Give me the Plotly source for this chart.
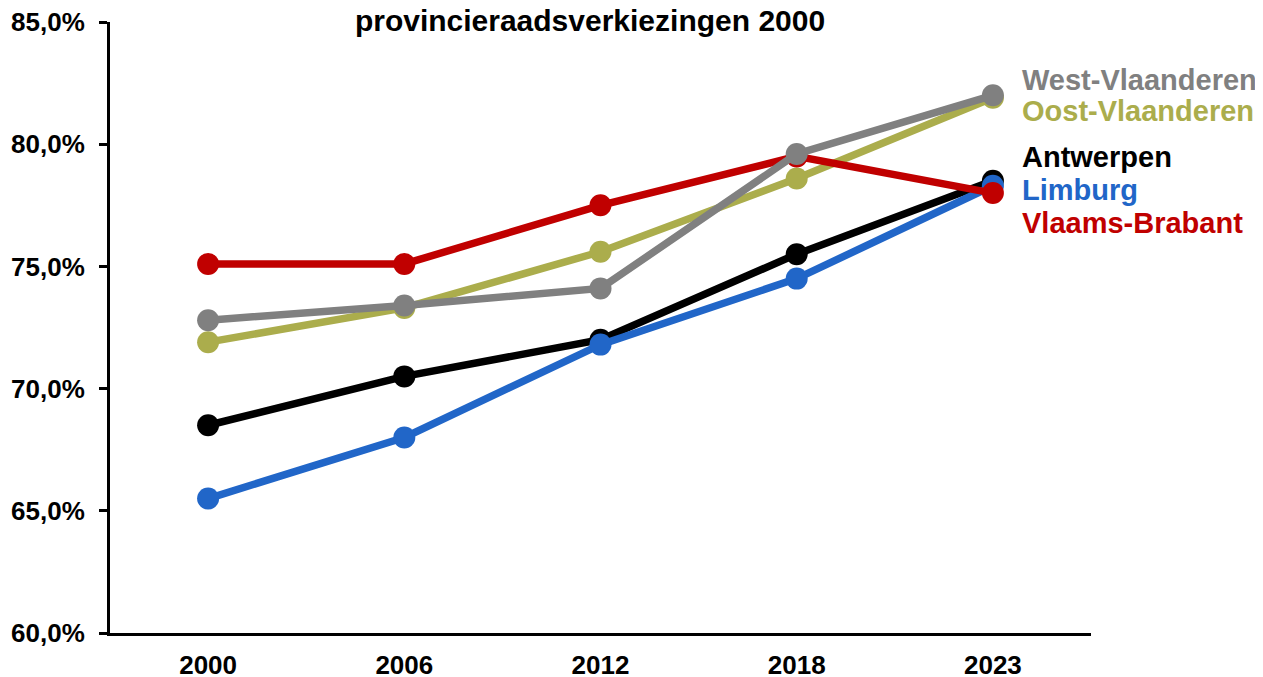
import plotly.graph_objects as go

years = ["2000", "2006", "2012", "2018", "2023"]
antwerpen = [68.5, 70.5, 72.0, 75.5, 78.5]
limburg = [65.5, 68.0, 71.8, 74.5, 78.3]
oost_vlaanderen = [71.9, 73.3, 75.6, 78.6, 81.9]
vlaams_brabant = [75.1, 75.1, 77.5, 79.5, 78.0]
west_vlaanderen = [72.8, 73.4, 74.1, 79.6, 82.0]
y_ticks = [0.60, 0.65, 0.70, 0.75, 0.80, 0.85]

series = [
    ("Antwerpen", antwerpen, "#000000"),
    ("Limburg", limburg, "#2166C8"),
    ("Oost-Vlaanderen", oost_vlaanderen, "#ABAD4C"),
    ("Vlaams-Brabant", vlaams_brabant, "#C00000"),
    ("West-Vlaanderen", west_vlaanderen, "#808080"),
]

# label positions in paper fraction (labels are stacked on the right)
label_pos = {
    "West-Vlaanderen": 0.9051,
    "Oost-Vlaanderen": 0.8543,
    "Antwerpen": 0.7790,
    "Limburg": 0.7250,
    "Vlaams-Brabant": 0.6710,
}

FONT = "Liberation Sans, Arial, sans-serif"
W, H = 1255, 669

fig = go.Figure()
for name, vals, color in series:
    fig.add_trace(go.Scatter(
        x=years, y=[v / 100 for v in vals], mode="lines+markers", name=name,
        line=dict(color=color, width=7.5),
        marker=dict(color=color, size=22),
        showlegend=False,
    ))

annotations = []
for name, vals, color in series:
    annotations.append(dict(
        x=0.9276, y=label_pos[name], xref="paper", yref="paper",
        text="<b>" + name + "</b>", showarrow=False,
        xanchor="left", yanchor="middle",
        font=dict(family=FONT, size=29, color=color),
    ))

fig.update_layout(
    width=W, height=H,
    paper_bgcolor="white", plot_bgcolor="white",
    margin=dict(l=102, r=172, t=14, b=44, autoexpand=False),
    separators=",.",
    title=dict(
        text="<b>provincieraadsverkiezingen 2000</b>",
        x=582 / W, xanchor="center", xref="container",
        y=1 - 12 / H, yanchor="middle", yref="container",
        font=dict(family=FONT, size=30, color="black"),
    ),
    annotations=annotations,
    xaxis=dict(
        type="category", range=[-0.5, 4.5], automargin=False,
        showline=True, linecolor="black", linewidth=3,
        ticks="", showgrid=False, zeroline=False,
        tickfont=dict(family=FONT, size=26, color="black", weight="bold"),
        ticklabelstandoff=7, ticklabeloverflow="allow",
    ),
    yaxis=dict(
        range=[0.60, 0.85], tickvals=y_ticks, automargin=False,
        tickformat=".1%",
        showline=True, linecolor="black", linewidth=3,
        ticks="outside", ticklen=8, tickwidth=3, tickcolor="black",
        showgrid=False, zeroline=False,
        tickfont=dict(family=FONT, size=26, color="black", weight="bold"),
        ticklabelstandoff=9, ticklabeloverflow="allow",
    ),
)

fig.write_html("out.html")
